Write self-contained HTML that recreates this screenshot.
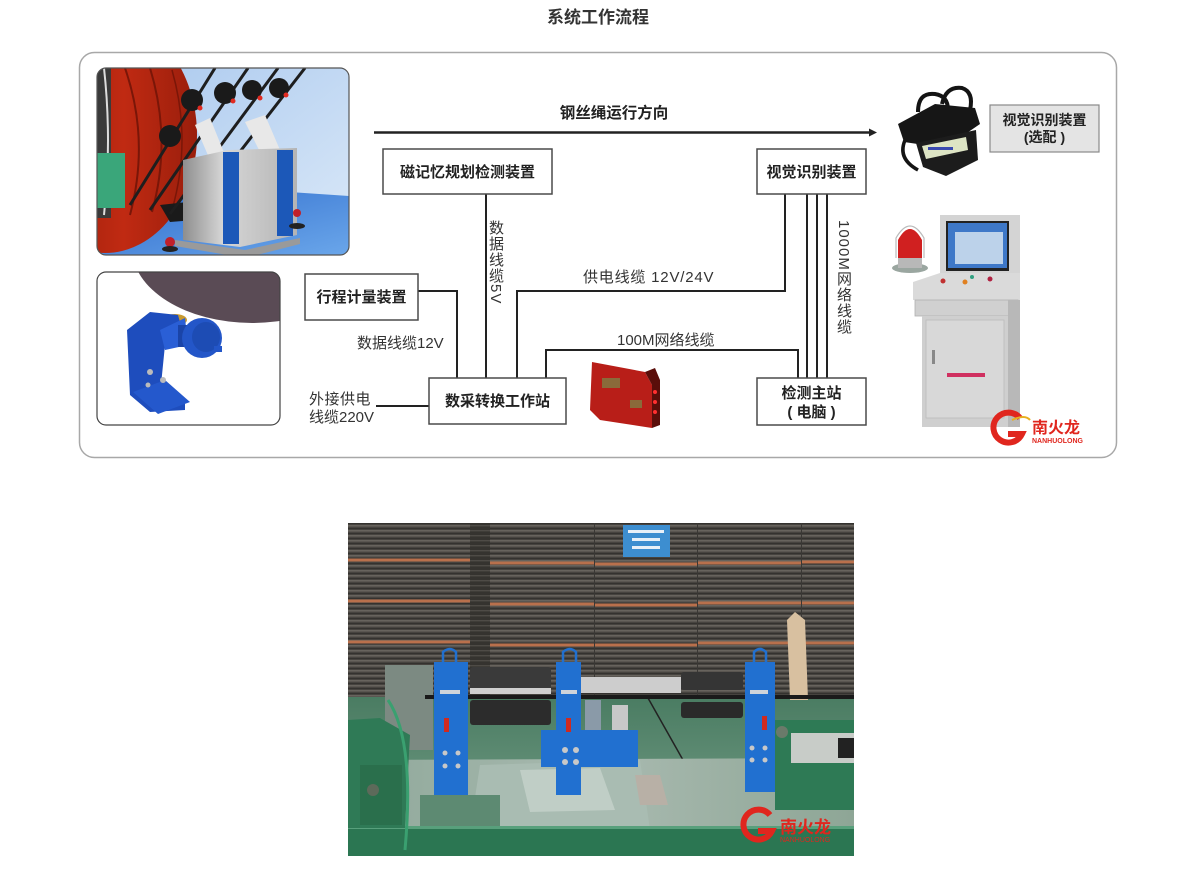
<!DOCTYPE html>
<html><head><meta charset="utf-8">
<style>
html,body{margin:0;padding:0;background:#fff;}
body{width:1196px;height:886px;position:relative;overflow:hidden;font-family:"Liberation Sans","Noto Sans CJK SC",sans-serif;}
svg{position:absolute;left:0;top:0;}
.vt{position:absolute;writing-mode:vertical-rl;font-size:15px;color:#333;line-height:16px;letter-spacing:1px;font-family:"Liberation Sans","Noto Sans CJK SC",sans-serif;}
</style></head>
<body>
<svg width="1196" height="886" viewBox="0 0 1196 886" xmlns="http://www.w3.org/2000/svg" font-family="Liberation Sans, Noto Sans CJK SC, sans-serif">
<defs>
<linearGradient id="sky" x1="0" y1="0" x2="1" y2="1"><stop offset="0" stop-color="#a9c8ee"/><stop offset="1" stop-color="#dbe9f8"/></linearGradient>
<linearGradient id="floor" x1="0" y1="0" x2="1" y2="1"><stop offset="0" stop-color="#2e6bcc"/><stop offset="1" stop-color="#6aa6ea"/></linearGradient>
<linearGradient id="box" x1="0" y1="0" x2="1" y2="0"><stop offset="0" stop-color="#8e8e8e"/><stop offset="0.35" stop-color="#d6d6d6"/><stop offset="1" stop-color="#b4b4b4"/></linearGradient>
<linearGradient id="red" x1="0" y1="0" x2="1" y2="0"><stop offset="0" stop-color="#8a1a0a"/><stop offset="0.6" stop-color="#c02a12"/><stop offset="1" stop-color="#9a1e0c"/></linearGradient>
<pattern id="coil" width="8" height="5" patternUnits="userSpaceOnUse"><rect width="8" height="5" fill="#46433f"/><rect y="0" width="8" height="1.6" fill="#67635d"/><rect y="3" width="8" height="1" fill="#34322f"/></pattern>
<pattern id="coild" width="8" height="5" patternUnits="userSpaceOnUse"><rect width="8" height="5" fill="#35332f"/><rect y="0" width="8" height="1.4" fill="#4e4b46"/></pattern>
<linearGradient id="flr2" x1="0" y1="0" x2="0" y2="1"><stop offset="0" stop-color="#4a7c62"/><stop offset="1" stop-color="#5f8c74"/></linearGradient>
<linearGradient id="tbl" x1="0" y1="0" x2="1" y2="0"><stop offset="0" stop-color="#8fa89a"/><stop offset="0.5" stop-color="#a9bab0"/><stop offset="1" stop-color="#8ea696"/></linearGradient>
<clipPath id="c1"><rect x="97" y="68" width="252" height="187" rx="9"/></clipPath>
<clipPath id="c2"><rect x="97" y="272" width="183" height="153" rx="9"/></clipPath>
<clipPath id="c3"><rect x="348" y="523" width="506" height="333"/></clipPath>
</defs>

<!-- title -->
<text x="598" y="23" text-anchor="middle" font-size="17" font-weight="bold" fill="#333">系统工作流程</text>

<!-- container -->
<rect x="79.5" y="52.5" width="1037" height="405" rx="15" fill="#fff" stroke="#a8a8a8" stroke-width="1.5"/>

<!-- top-left image -->
<g clip-path="url(#c1)">
  <rect x="97" y="68" width="252" height="187" fill="url(#sky)"/>
  <polygon points="97,203 200,186 349,196 349,255 97,255" fill="url(#floor)"/>
  <ellipse cx="105" cy="135" rx="92" ry="118" fill="url(#red)"/>
  <path d="M125,68 Q150,140 130,215" stroke="#7a1608" stroke-width="2" fill="none"/>
  <path d="M150,68 Q172,140 152,212" stroke="#7a1608" stroke-width="2" fill="none"/>
  <path d="M172,70 Q192,140 172,210" stroke="#7a1608" stroke-width="1.5" fill="none"/>
  <rect x="97" y="68" width="14" height="150" fill="#3a3a3a"/>
  <path d="M104,68 Q112,140 104,215" stroke="#ddd" stroke-width="2" fill="none"/>
  <rect x="97" y="153" width="28" height="55" fill="#3aa67a"/>
  <polygon points="160,205 205,200 220,218 170,222" fill="#1a1a1a"/>
  <!-- ropes -->
  <g stroke="#1e1e1e" stroke-width="3">
    <line x1="130" y1="205" x2="215" y2="68"/>
    <line x1="150" y1="210" x2="248" y2="68"/>
    <line x1="170" y1="214" x2="278" y2="68"/>
    <line x1="190" y1="216" x2="305" y2="68"/>
  </g>
  <!-- brackets -->
  <polygon points="195,125 210,118 225,155 210,160" fill="#e8e8e8"/>
  <polygon points="245,122 265,115 280,150 262,156" fill="#e8e8e8"/>
  <!-- device -->
  <polygon points="183,160 228,150 297,148 297,235 240,247 183,240" fill="url(#box)"/>
  <rect x="223" y="152" width="16" height="92" fill="#1c58b8"/>
  <rect x="277" y="150" width="16" height="86" fill="#1c58b8"/>
  <polygon points="175,240 245,250 300,238 300,244 245,258 175,246" fill="#9a9a9a"/>
  <circle cx="170" cy="242" r="5" fill="#c0202a"/>
  <ellipse cx="170" cy="249" rx="8" ry="3" fill="#222"/>
  <circle cx="297" cy="213" r="4" fill="#c0202a"/>
  <ellipse cx="297" cy="226" rx="8" ry="3" fill="#222"/>
  <!-- clamps -->
  <g fill="#1a1a1a">
    <circle cx="192" cy="100" r="11"/><circle cx="225" cy="93" r="11"/><circle cx="252" cy="90" r="10"/><circle cx="279" cy="88" r="10"/><circle cx="170" cy="136" r="11"/>
  </g>
  <g fill="#e02a20"><circle cx="200" cy="108" r="2.5"/><circle cx="233" cy="101" r="2.5"/><circle cx="260" cy="98" r="2.5"/><circle cx="286" cy="95" r="2.5"/></g>
</g>
<rect x="97" y="68" width="252" height="187" rx="9" fill="none" stroke="#555" stroke-width="1.2"/>

<!-- lower-left image -->
<g clip-path="url(#c2)">
  <rect x="97" y="272" width="183" height="153" fill="#fff"/>
  <ellipse cx="252" cy="248" rx="120" ry="75" fill="#5a4b55"/>
  <ellipse cx="175" cy="320" rx="12" ry="6" fill="#c89a30"/>
  <polygon points="127,330 150,312 178,315 185,340 165,345 160,395 185,400 185,410 150,412 130,395" fill="#1e4dbd"/>
  <polygon points="160,330 185,318 188,345 165,350" fill="#2a5fd6"/>
  <rect x="178" y="325" width="16" height="22" fill="#1a44a8"/>
  <ellipse cx="202" cy="338" rx="20" ry="20" fill="#2356c8"/>
  <ellipse cx="206" cy="337" rx="14" ry="15" fill="#1d4cb4"/>
  <rect x="214" y="346" width="8" height="6" fill="#2356c8"/>
  <polygon points="133,392 165,380 190,402 158,414" fill="#2458cc"/>
  <g fill="#bbb"><circle cx="150" cy="372" r="3"/><circle cx="163" cy="380" r="3"/><circle cx="148" cy="385" r="2.5"/></g>
</g>
<rect x="97" y="272" width="183" height="153" rx="9" fill="none" stroke="#444" stroke-width="1.2"/>

<!-- arrow -->
<line x1="374" y1="132.5" x2="870" y2="132.5" stroke="#222" stroke-width="2.5"/>
<polygon points="869,128.5 877,132.5 869,136.5" fill="#222"/>
<text x="614" y="118" text-anchor="middle" font-size="15.5" font-weight="bold" fill="#222">钢丝绳运行方向</text>

<!-- connectors -->
<g stroke="#222" stroke-width="2" fill="none">
  <line x1="486" y1="194" x2="486" y2="378"/>
  <polyline points="418,291 457,291 457,378"/>
  <line x1="376" y1="406" x2="429" y2="406"/>
  <polyline points="517,378 517,291 785,291 785,194"/>
  <polyline points="546,378 546,350 798,350 798,378"/>
  <line x1="807" y1="194" x2="807" y2="378"/>
  <line x1="817" y1="194" x2="817" y2="378"/>
  <line x1="827" y1="194" x2="827" y2="378"/>
</g>

<!-- boxes -->
<g fill="#fff" stroke="#4a4a4a" stroke-width="1.5">
  <rect x="383" y="149" width="169" height="45"/>
  <rect x="757" y="149" width="109" height="45"/>
  <rect x="305" y="274" width="113" height="46"/>
  <rect x="429" y="378" width="137" height="46"/>
  <rect x="757" y="378" width="109" height="47"/>
</g>
<rect x="990" y="105" width="109" height="47" fill="#e4e4e4" stroke="#8a8a8a" stroke-width="1.2"/>

<g font-size="15" font-weight="bold" fill="#222" text-anchor="middle">
  <text x="467.5" y="177">磁记忆规划检测装置</text>
  <text x="811.5" y="177">视觉识别装置</text>
  <text x="361.5" y="302">行程计量装置</text>
  <text x="497.5" y="406">数采转换工作站</text>
  <text x="811.5" y="398">检测主站</text>
  <text x="811.5" y="417">( 电脑 )</text>
  <text x="1044.5" y="125" font-size="14">视觉识别装置</text>
  <text x="1044.5" y="142" font-size="14">(选配 )</text>
</g>

<g font-size="15" fill="#333">
  <text x="357" y="348">数据线缆12V</text>
  <text x="583" y="282" letter-spacing="0.8">供电线缆 12V/24V</text>
  <text x="617" y="345">100M网络线缆</text>
  <text x="309" y="404" letter-spacing="0.5">外接供电</text>
  <text x="309" y="422">线缆220V</text>
</g>

<!-- red box -->
<polygon points="592,362 645,372 652,385 652,428 600,420 590,410" fill="#b81e18"/>
<polygon points="645,372 655,368 660,380 660,425 652,428 652,385" fill="#5a0e0a"/>
<rect x="602" y="378" width="18" height="10" fill="#8a6a3a"/>
<rect x="630" y="400" width="12" height="8" fill="#8a6a3a"/>
<g fill="#ff3030"><circle cx="655" cy="392" r="2"/><circle cx="655" cy="402" r="2"/><circle cx="655" cy="412" r="2"/></g>

<!-- camera -->
<path d="M918,112 Q918,92 935,94 Q948,96 948,110" stroke="#141414" stroke-width="4" fill="none"/>
<path d="M942,104 Q946,86 962,88 Q974,92 970,110" stroke="#141414" stroke-width="4" fill="none"/>
<path d="M906,138 Q896,158 918,170" stroke="#141414" stroke-width="3.5" fill="none"/>
<polygon points="898,124 935,104 975,108 980,124 945,148 904,142" fill="#161616"/>
<polygon points="916,143 976,130 978,160 946,176 923,167" fill="#1c1c1c"/>
<polygon points="922,146 966,137 968,150 926,159" fill="#dde4c4"/>
<rect x="928" y="147" width="25" height="3" fill="#3a4ab0"/>

<!-- alarm light -->
<ellipse cx="910" cy="268" rx="18" ry="5" fill="#9aa6a0"/>
<rect x="898" y="258" width="24" height="10" fill="#b8b8b8"/>
<path d="M898,258 L898,240 Q910,218 922,240 L922,258 Z" fill="#d02020"/>
<path d="M896,258 L896,238 Q910,214 924,238 L924,258" fill="none" stroke="#bbb" stroke-width="1.2"/>

<!-- cabinet -->
<rect x="940" y="215" width="80" height="62" fill="#d4d4d4"/>
<rect x="946" y="221" width="63" height="50" fill="#222"/>
<rect x="948" y="223" width="59" height="45" fill="#3e78c8"/>
<rect x="955" y="232" width="48" height="32" fill="#bcd2ea"/>
<polygon points="913,282 940,273 1020,273 1020,300 913,300" fill="#dadada"/>
<g><circle cx="943" cy="281" r="2.5" fill="#c03030"/><circle cx="965" cy="282" r="2.5" fill="#e08020"/><circle cx="972" cy="277" r="2" fill="#30a080"/><circle cx="990" cy="279" r="2.5" fill="#b02040"/></g>
<rect x="915" y="300" width="103" height="16" fill="#d0d0d0" stroke="#b0b0b0" stroke-width="0.8"/>
<rect x="922" y="316" width="86" height="111" fill="#cfcfcf"/>
<rect x="926" y="320" width="78" height="98" fill="#d8d8d8" stroke="#bbb" stroke-width="0.8"/>
<rect x="1008" y="300" width="12" height="127" fill="#b8b8b8"/>
<rect x="947" y="373" width="38" height="4" fill="#d03060"/>
<rect x="932" y="350" width="3" height="14" fill="#888"/>

<!-- logo right -->
<path d="M1020,418 A15,15 0 1 0 1022,434 L1008,434" stroke="#e0261e" stroke-width="6" fill="none"/>
<path d="M1012,420 Q1025,414 1030,420" stroke="#e8b020" stroke-width="2" fill="none"/>
<text x="1032" y="433" font-size="16" font-weight="bold" fill="#e0261e">南火龙</text>
<text x="1032" y="443" font-size="7" font-weight="bold" fill="#e0261e">NANHUOLONG</text>

<!-- bottom photo -->
<g clip-path="url(#c3)">
  <rect x="348" y="523" width="506" height="333" fill="#3a3835"/>
  <!-- coil columns -->
  <rect x="348" y="523" width="122" height="175" fill="url(#coil)"/>
  <rect x="470" y="523" width="20" height="175" fill="url(#coild)"/>
  <rect x="490" y="523" width="104" height="175" fill="url(#coil)"/>
  <rect x="595" y="523" width="102" height="175" fill="url(#coil)"/>
  <rect x="698" y="523" width="103" height="175" fill="url(#coil)"/>
  <rect x="802" y="523" width="52" height="175" fill="url(#coil)"/>
  <g stroke="#b9704c" stroke-width="3">
    <line x1="348" y1="560" x2="470" y2="560"/><line x1="348" y1="601" x2="470" y2="601"/><line x1="348" y1="642" x2="470" y2="642"/>
    <line x1="490" y1="563" x2="594" y2="563"/><line x1="490" y1="604" x2="594" y2="604"/><line x1="490" y1="645" x2="594" y2="645"/>
    <line x1="595" y1="564" x2="697" y2="564"/><line x1="595" y1="605" x2="697" y2="605"/><line x1="595" y1="645" x2="697" y2="645"/>
    <line x1="698" y1="563" x2="801" y2="563"/><line x1="698" y1="603" x2="801" y2="603"/><line x1="698" y1="643" x2="801" y2="643"/>
    <line x1="802" y1="562" x2="854" y2="562"/><line x1="802" y1="603" x2="854" y2="603"/><line x1="802" y1="643" x2="854" y2="643"/>
  </g>
  <rect x="623" y="525" width="47" height="32" fill="#3d8ed0"/>
  <g fill="#e8f0f8"><rect x="628" y="530" width="36" height="3"/><rect x="632" y="538" width="28" height="3"/><rect x="632" y="546" width="28" height="3"/></g>
  <!-- green floor behind -->
  <rect x="348" y="697" width="506" height="70" fill="url(#flr2)"/>
  <line x1="648" y1="698" x2="683" y2="760" stroke="#222" stroke-width="1.5"/>
  <!-- table top -->
  <polygon points="348,760 854,758 854,830 348,830" fill="url(#tbl)"/>
  <polygon points="480,765 640,760 650,830 470,830" fill="#a9bcb2"/>
  <polygon points="520,770 600,768 615,810 530,812" fill="#c0cec6"/>
  <rect x="420" y="795" width="80" height="35" fill="#5d8a72"/>
  <polygon points="635,775 660,775 668,805 640,805" fill="#b8b0a6"/>
  <rect x="348" y="828" width="506" height="28" fill="#2b7652"/>
  <rect x="348" y="826" width="506" height="3" fill="#58a07c"/>
  <!-- wooden post right -->
  <polygon points="787,620 795,612 805,620 808,700 790,700" fill="#d8c0a0"/>
  <!-- left machine -->
  <rect x="385" y="665" width="48" height="85" fill="#7c8a82"/>
  <polygon points="348,720 380,718 410,735 405,828 348,828" fill="#2f7a56"/>
  <rect x="360" y="765" width="42" height="60" fill="#2a6f4c"/>
  <path d="M388,700 Q415,740 405,850" stroke="#3aa070" stroke-width="3" fill="none"/>
  <circle cx="373" cy="790" r="6" fill="#5d6a5a"/>
  <!-- right machine -->
  <rect x="775" y="720" width="79" height="90" fill="#2e7a55"/>
  <rect x="791" y="733" width="63" height="30" fill="#c8ccc8"/>
  <rect x="838" y="738" width="16" height="20" fill="#222"/>
  <circle cx="782" cy="732" r="6" fill="#6a7a6a"/>
  <!-- rope -->
  <rect x="425" y="695" width="429" height="4" fill="#1a1a1a"/>
  <!-- rollers -->
  <rect x="470" y="667" width="81" height="23" rx="3" fill="#3a3a3a"/>
  <rect x="470" y="688" width="81" height="6" fill="#cfcfcf"/>
  <rect x="470" y="700" width="81" height="25" rx="3" fill="#2c2c2c"/>
  <rect x="581" y="677" width="100" height="16" fill="#cdcdcd"/>
  <rect x="681" y="672" width="62" height="18" rx="3" fill="#353535"/>
  <rect x="681" y="702" width="62" height="16" rx="3" fill="#2a2a2a"/>
  <rect x="585" y="700" width="16" height="30" fill="#8a9aa8"/>
  <rect x="612" y="705" width="16" height="25" fill="#c8c8c8"/>
  <!-- blue stands -->
  <g fill="#2170d0">
    <rect x="434" y="662" width="34" height="133"/>
    <rect x="556" y="662" width="25" height="133"/>
    <rect x="541" y="730" width="97" height="37"/>
    <rect x="745" y="662" width="30" height="130"/>
  </g>
  <g fill="none" stroke="#2170d0" stroke-width="2.5">
    <path d="M443,663 L443,652 Q450,646 456,652 L456,663"/>
    <path d="M563,663 L563,652 Q570,646 576,652 L576,663"/>
    <path d="M754,663 L754,652 Q760,646 766,652 L766,663"/>
  </g>
  <g fill="#cfd4da"><rect x="440" y="690" width="20" height="4"/><rect x="561" y="690" width="16" height="4"/><rect x="750" y="690" width="18" height="4"/></g>
  <g fill="#d02a20"><rect x="444" y="718" width="5" height="14"/><rect x="566" y="718" width="5" height="14"/><rect x="762" y="716" width="5" height="14"/></g>
  <g fill="#c8c8c8"><circle cx="445" cy="753" r="2.5"/><circle cx="458" cy="753" r="2.5"/><circle cx="445" cy="766" r="2.5"/><circle cx="458" cy="766" r="2.5"/><circle cx="565" cy="750" r="3"/><circle cx="576" cy="750" r="3"/><circle cx="565" cy="762" r="3"/><circle cx="576" cy="762" r="3"/><circle cx="752" cy="748" r="2.5"/><circle cx="765" cy="748" r="2.5"/><circle cx="752" cy="760" r="2.5"/><circle cx="765" cy="760" r="2.5"/></g>
  <!-- logo bottom -->
  <path d="M770,815 A15,15 0 1 0 772,831 L758,831" stroke="#e0261e" stroke-width="6" fill="none"/>
  <text x="780" y="833" font-size="17" font-weight="bold" fill="#e0261e">南火龙</text>
  <text x="780" y="842" font-size="7" fill="#e0261e">NANHUOLONG</text>
</g>
</svg>

<div class="vt" style="left:487px;top:220px;">数据线缆5V</div>
<div class="vt" style="left:835px;top:220px;">1000M网络线缆</div>
</body></html>
